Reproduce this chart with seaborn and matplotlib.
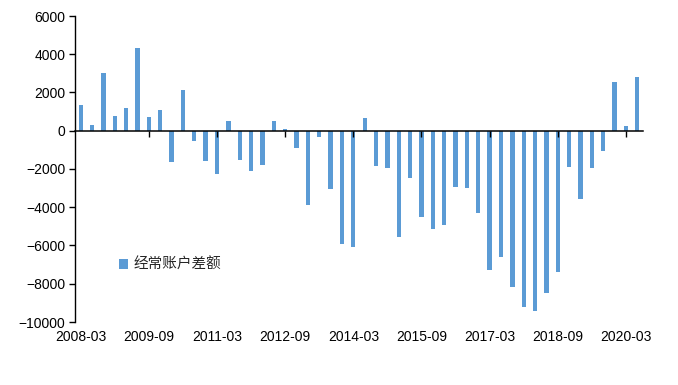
import matplotlib
matplotlib.use("Agg")
import matplotlib.pyplot as plt
import pandas as pd
import seaborn as sns

# Квартальные даты 2008-03 ... 2020-06
quarters = pd.date_range("2008-03-01", "2020-06-01", freq="3MS").strftime("%Y-%m").tolist()

# Сальдо текущего счёта (оценка по картинке)
balance = [
    1325, 279, 2998, 750, 1168, 4305, 697, 1063, -1656, 2109,
    -558, -1604, -2283, 488, -1551, -2126, -1813, 488, 70, -924,
    -3904, -349, -3068, -5944, -6101, 645, -1865, -1970, -5578, -2493,
    -4532, -5159, -4950, -2963, -3015, -4323, -7303, -6623, -8192, -9238,
    -9447, -8506, -7408, -1917, -3591, -1970, -1081, 2527, 227, 2789,
]
series_name = "经常账户差额"
y_ticks = list(range(-10000, 6001, 2000))

df = pd.DataFrame({"quarter": quarters, "value": balance})

sns.set_theme(style="white")
plt.rcParams["font.family"] = ["Liberation Sans", "Noto Sans CJK SC"]

fig, ax = plt.subplots(figsize=(6.78, 3.85), dpi=100)
fig.subplots_adjust(left=75 / 678, right=643 / 678, top=1 - 16 / 385, bottom=1 - 322 / 385)

sns.barplot(data=df, x="quarter", y="value", color="#5B9BD5", width=0.38,
            saturation=1, linewidth=0, label=series_name, ax=ax)

ax.set_ylim(-10000, 6000)
ax.set_xlim(-0.5, len(quarters) - 0.5)
ax.set_yticks(y_ticks)
ax.set_xticks(range(0, len(quarters), 6))
ax.set_xticklabels(quarters[::6])
ax.set_xlabel("")
ax.set_ylabel("")

for side in ["top", "right", "bottom"]:
    ax.spines[side].set_visible(False)
ax.spines["left"].set_color("black")
ax.spines["left"].set_linewidth(1)
ax.tick_params(axis="y", direction="out", length=4, width=1, color="black",
               labelsize=10, labelcolor="black", left=True, pad=3)
ax.tick_params(axis="x", length=0, labelsize=10, labelcolor="black", pad=6)

# Линия нуля с засечками
zero_pos = (0 - (-10000)) / 16000
sec = ax.secondary_xaxis(zero_pos)
sec.set_alignment("bottom")
sec.set_zorder(5)
sec.set_xticks(range(6, len(quarters), 6))
sec.set_xticklabels([])
sec.spines["bottom"].set_color("black")
sec.spines["bottom"].set_linewidth(1.1)
sec.tick_params(axis="x", direction="out", length=4, width=1, color="black")

ax.legend(loc="lower left", bbox_to_anchor=(0.055, 0.12), frameon=False,
          fontsize=10.5, handlelength=0.6, handleheight=0.6, handletextpad=0.4)

fig.savefig("out.png", dpi=100)
